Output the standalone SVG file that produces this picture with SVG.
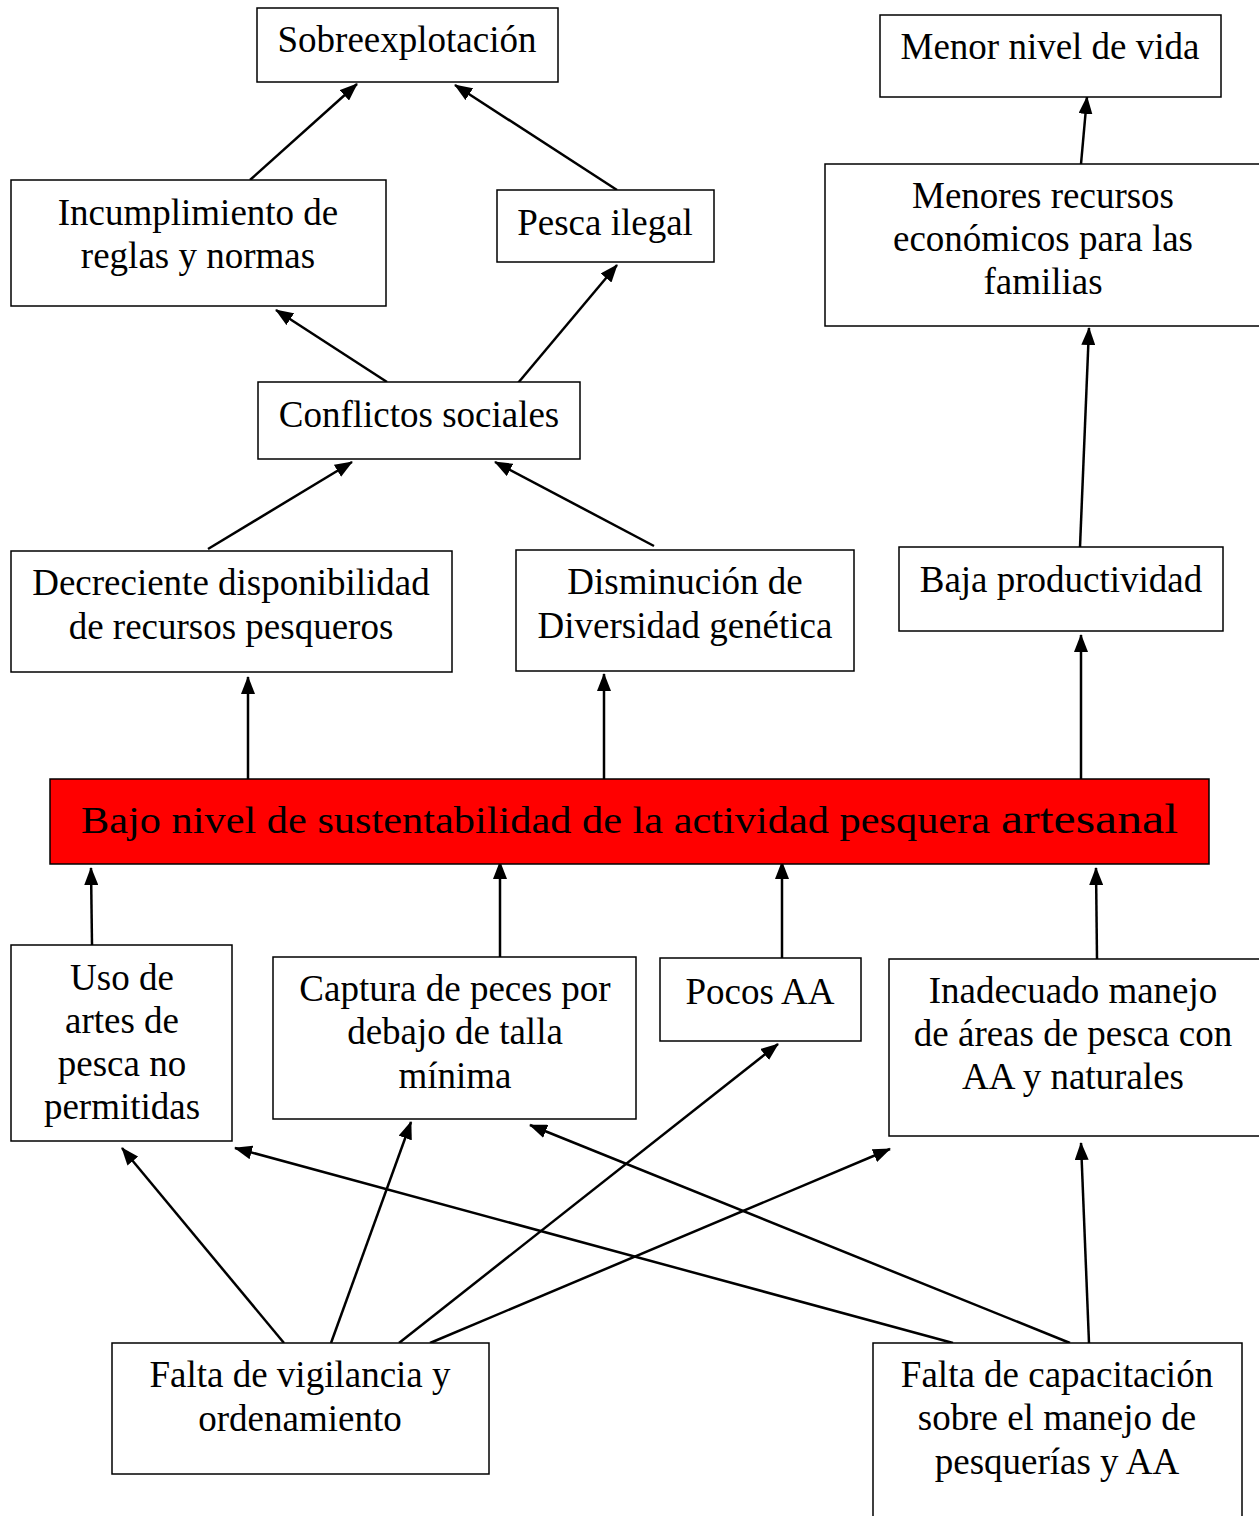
<svg xmlns="http://www.w3.org/2000/svg" width="1259" height="1516" viewBox="0 0 1259 1516">
  <style>
    .box { fill: #ffffff; stroke: #000000; stroke-width: 1.5; }
    .core { fill: #ff0000; stroke: #000000; stroke-width: 1.5; }
    .lbl { font-family: "Liberation Serif", "Times New Roman", serif; font-size: 37px; fill: #000000; text-anchor: middle; }
    .edge { stroke: #000000; stroke-width: 2.5; fill: none; marker-end: url(#arrow); }
  </style>
  <defs>
    <marker id="arrow" viewBox="0 0 18 14" refX="17" refY="7" markerWidth="18" markerHeight="14" markerUnits="userSpaceOnUse" orient="auto">
      <path d="M0,0 L18,7 L0,14 Z" fill="#000000"/>
    </marker>
  </defs>

  <rect width="1259" height="1516" fill="#ffffff"/>

  <!-- connectors -->
  <g id="connectors">
    <line class="edge" x1="250" y1="180" x2="357" y2="84"/>
    <line class="edge" x1="617" y1="190" x2="455" y2="85"/>
    <line class="edge" x1="387" y1="382" x2="276" y2="310"/>
    <line class="edge" x1="518" y1="383" x2="617" y2="265"/>
    <line class="edge" x1="208" y1="549" x2="352" y2="462"/>
    <line class="edge" x1="654" y1="546" x2="495" y2="462"/>
    <line class="edge" x1="1081" y1="164" x2="1087" y2="97"/>
    <line class="edge" x1="1080" y1="547" x2="1089" y2="328"/>
    <line class="edge" x1="248" y1="779" x2="248" y2="677"/>
    <line class="edge" x1="604" y1="779" x2="604" y2="674"/>
    <line class="edge" x1="1081" y1="779" x2="1081" y2="635"/>
    <line class="edge" x1="92" y1="945" x2="91" y2="868"/>
    <line class="edge" x1="500" y1="957" x2="500" y2="862"/>
    <line class="edge" x1="782" y1="958" x2="782" y2="862"/>
    <line class="edge" x1="1097" y1="959" x2="1096" y2="868"/>
    <line class="edge" x1="284" y1="1343" x2="122" y2="1148"/>
    <line class="edge" x1="331" y1="1343" x2="411" y2="1122"/>
    <line class="edge" x1="399" y1="1343" x2="778" y2="1044"/>
    <line class="edge" x1="430" y1="1343" x2="890" y2="1149"/>
    <line class="edge" x1="953" y1="1343" x2="235" y2="1148"/>
    <line class="edge" x1="1070" y1="1343" x2="530" y2="1125"/>
    <line class="edge" x1="1089" y1="1343" x2="1081" y2="1143"/>
  </g>

  <!-- effects -->
  <g id="sobreexplotacion">
    <rect class="box" x="257" y="8" width="301" height="74"/>
    <text class="lbl" x="407" y="52">Sobreexplotación</text>
  </g>
  <g id="menor-nivel-vida">
    <rect class="box" x="880" y="15" width="341" height="82"/>
    <text class="lbl" x="1050" y="59">Menor nivel de vida</text>
  </g>
  <g id="incumplimiento">
    <rect class="box" x="11" y="180" width="375" height="126"/>
    <text class="lbl" x="198" y="225">Incumplimiento de</text>
    <text class="lbl" x="198" y="268">reglas y normas</text>
  </g>
  <g id="pesca-ilegal">
    <rect class="box" x="497" y="190" width="217" height="72"/>
    <text class="lbl" x="605" y="235">Pesca ilegal</text>
  </g>
  <g id="menores-recursos">
    <rect class="box" x="825" y="164" width="440" height="162"/>
    <text class="lbl" x="1043" y="208">Menores recursos</text>
    <text class="lbl" x="1043" y="251">económicos para las</text>
    <text class="lbl" x="1043" y="294">familias</text>
  </g>
  <g id="conflictos-sociales">
    <rect class="box" x="258" y="382" width="322" height="77"/>
    <text class="lbl" x="419" y="427">Conflictos sociales</text>
  </g>
  <g id="decreciente-disponibilidad">
    <rect class="box" x="11" y="551" width="441" height="121"/>
    <text class="lbl" x="231" y="595">Decreciente disponibilidad</text>
    <text class="lbl" x="231" y="639">de recursos pesqueros</text>
  </g>
  <g id="disminucion-diversidad">
    <rect class="box" x="516" y="550" width="338" height="121"/>
    <text class="lbl" x="685" y="594">Disminución de</text>
    <text class="lbl" x="685" y="638">Diversidad genética</text>
  </g>
  <g id="baja-productividad">
    <rect class="box" x="899" y="547" width="324" height="84"/>
    <text class="lbl" x="1061" y="592">Baja productividad</text>
  </g>

  <!-- central problem -->
  <g id="problema-central">
    <rect class="core" x="50" y="779" width="1159" height="85"/>
    <text font-family="'Liberation Serif', 'Times New Roman', serif" fill="#000000" y="833"><tspan x="81" font-size="38" textLength="909" lengthAdjust="spacingAndGlyphs">Bajo nivel de sustentabilidad de la actividad pesquera</tspan><tspan x="1001" font-size="42" textLength="177" lengthAdjust="spacingAndGlyphs">artesanal</tspan></text>
  </g>

  <!-- direct causes -->
  <g id="uso-artes">
    <rect class="box" x="11" y="945" width="221" height="196"/>
    <text class="lbl" x="122" y="990">Uso de</text>
    <text class="lbl" x="122" y="1033">artes de</text>
    <text class="lbl" x="122" y="1076">pesca no</text>
    <text class="lbl" x="122" y="1119">permitidas</text>
  </g>
  <g id="captura-peces">
    <rect class="box" x="273" y="957" width="363" height="162"/>
    <text class="lbl" x="455" y="1001">Captura de peces por</text>
    <text class="lbl" x="455" y="1044">debajo de talla</text>
    <text class="lbl" x="455" y="1088">mínima</text>
  </g>
  <g id="pocos-aa">
    <rect class="box" x="660" y="958" width="201" height="83"/>
    <text class="lbl" x="760" y="1004">Pocos AA</text>
  </g>
  <g id="inadecuado-manejo">
    <rect class="box" x="889" y="959" width="376" height="177"/>
    <text class="lbl" x="1073" y="1003">Inadecuado manejo</text>
    <text class="lbl" x="1073" y="1046">de áreas de pesca con</text>
    <text class="lbl" x="1073" y="1089">AA y naturales</text>
  </g>

  <!-- root causes -->
  <g id="falta-vigilancia">
    <rect class="box" x="112" y="1343" width="377" height="131"/>
    <text class="lbl" x="300" y="1387">Falta de vigilancia y</text>
    <text class="lbl" x="300" y="1431">ordenamiento</text>
  </g>
  <g id="falta-capacitacion">
    <rect class="box" x="873" y="1343" width="369" height="190"/>
    <text class="lbl" x="1057" y="1387">Falta de capacitación</text>
    <text class="lbl" x="1057" y="1430">sobre el manejo de</text>
    <text class="lbl" x="1057" y="1474">pesquerías y AA</text>
  </g>
</svg>
